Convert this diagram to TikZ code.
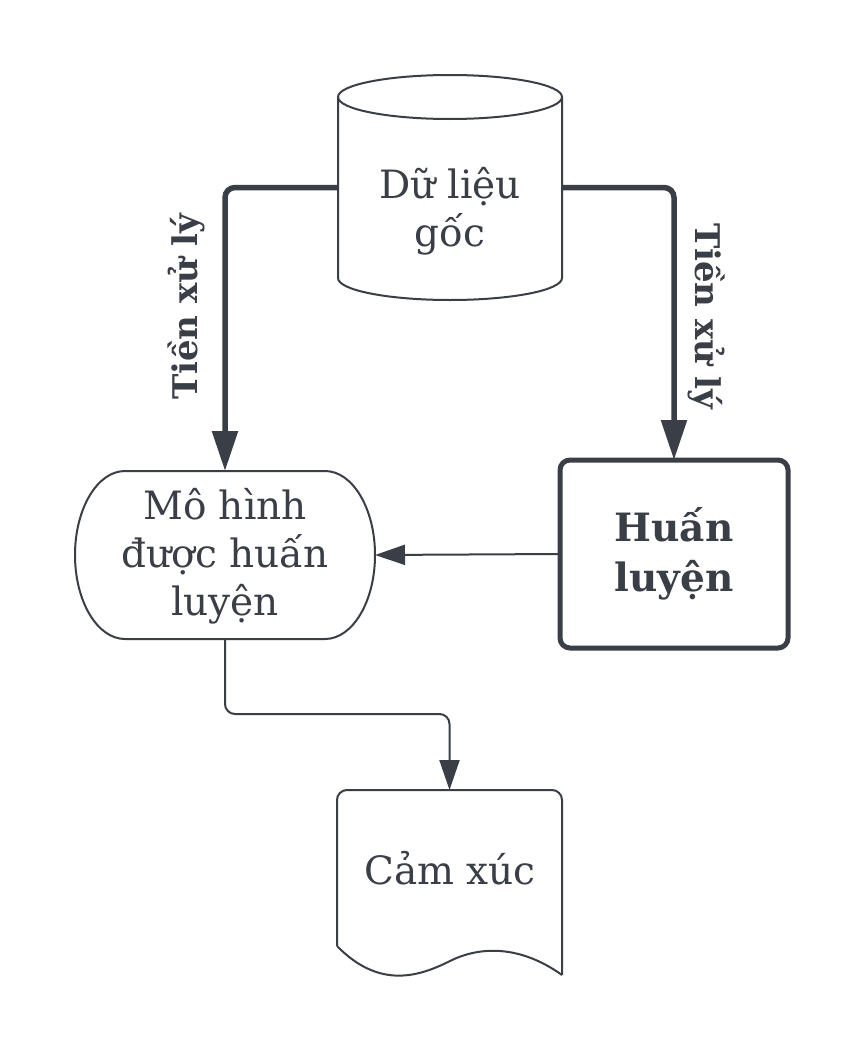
\documentclass[tikz,border=0pt]{standalone}
\usepackage{fontspec}
\setmainfont{DejaVu Serif}
\usetikzlibrary{arrows.meta,calc}
\definecolor{ink}{RGB}{58,62,70}
\begin{document}
\begin{tikzpicture}[x=1pt,y=-1pt,
  every node/.style={text=ink, inner sep=0pt, outer sep=0pt, align=center},
  maintext/.style={font=\fontsize{39}{48}\selectfont},
  labeltext/.style={font=\fontsize{34}{40}\selectfont\bfseries},
  thickconn/.style={draw=ink, line width=5.5pt, rounded corners=10pt, -{Triangle[length=40pt,width=25pt]}},
  thinconn/.style={draw=ink, line width=2pt, rounded corners=10pt, -{Triangle[length=30pt,width=20pt]}},
  outline/.style={draw=ink, line width=2pt},
]
\useasboundingbox[fill=white] (0,0) rectangle (863,1052);

% cylinder (Dữ liệu gốc)
\node[minimum width=224pt, minimum height=181pt] (db) at (450,187.5) {};
\draw[outline] (338,97) -- (338,278) arc[start angle=180, end angle=0, x radius=112, y radius=22] -- (562,97);
\draw[outline] (450,97) ellipse[x radius=112, y radius=22];
\node[maintext] (dbtext) at (450,211) {Dữ liệu\\gốc};

% Mô hình được huấn luyện (stadium)
\node[minimum width=300pt, minimum height=168pt] (mh) at (225,555) {};
\draw[outline] (125,471) -- (325,471) arc[start angle=-90, end angle=90, x radius=50, y radius=84]
  -- (125,639) arc[start angle=90, end angle=270, x radius=50, y radius=84] -- cycle;
\node[maintext] (mhtext) at (225,556) {Mô hình\\được huấn\\luyện};

% Huấn luyện
\node[draw=ink, line width=5pt, rounded corners=10pt, minimum width=228pt, minimum height=188pt,
      font=\fontsize{39}{50}\selectfont\bfseries] (hl) at (674,554) {Huấn\\luyện};

% Cảm xúc (document)
\node[minimum width=225pt, minimum height=160pt] (cx) at (449.5,870) {};
\draw[outline, rounded corners=10pt] (337,946) -- (337,790) -- (562,790) -- (562,975);
\draw[outline] (562,975) .. controls (520,945) and (480,946) .. (450,961)
  .. controls (420,976) and (380,990) .. (337,946);
\node[maintext] (cxtext) at (450,868) {Cảm xúc};

% connectors
\draw[thickconn] (db.west) -| (mh.north);
\draw[thickconn] (db.east) -| (hl.north);
\node[labeltext, rotate=90] (l1) at (186,307) {Tiền xử lý};
\node[labeltext, rotate=-90] (l2) at (707,316) {Tiền xử lý};

\draw[thinconn] (hl.west) -- (mh.east);
\coordinate (bend) at (340,714);
\draw[thinconn] (mh.south) |- (bend) -| (cx.north);
\end{tikzpicture}
\end{document}
